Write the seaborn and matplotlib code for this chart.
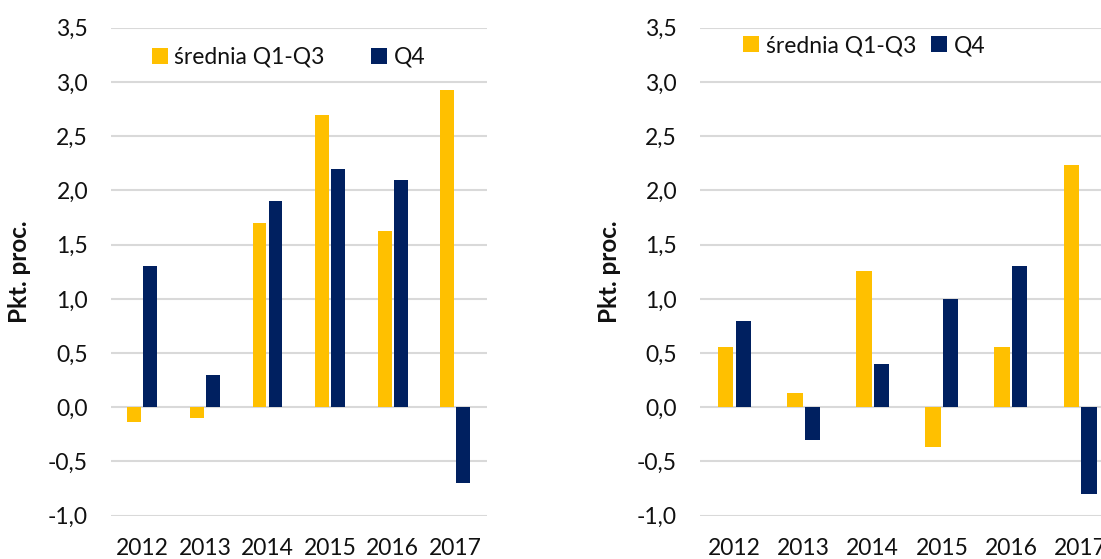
import matplotlib
matplotlib.use("Agg")
import matplotlib.pyplot as plt
import seaborn as sns
import pandas as pd
from matplotlib.patches import Patch

years = ["2012", "2013", "2014", "2015", "2016", "2017"]
series_names = ["średnia Q1-Q3", "Q4"]
left_avg = [-0.14, -0.10, 1.70, 2.70, 1.63, 2.93]
left_q4 = [1.30, 0.30, 1.90, 2.20, 2.10, -0.70]
right_avg = [0.56, 0.13, 1.26, -0.37, 0.56, 2.23]
right_q4 = [0.80, -0.30, 0.40, 1.00, 1.30, -0.80]
y_ticks = [-1.0, -0.5, 0.0, 0.5, 1.0, 1.5, 2.0, 2.5, 3.0, 3.5]
y_ticklabels = ["-1,0", "-0,5", "0,0", "0,5", "1,0", "1,5", "2,0", "2,5", "3,0", "3,5"]
y_label = "Pkt. proc."

colors = ["#FFC000", "#002060"]

sns.set_theme(style="white")
plt.rcParams["font.family"] = ["Lato", "DejaVu Sans"]
FS = 16.5
TXT = "#111111"

fig = plt.figure(figsize=(11.01, 5.59), dpi=100)
ax_l = fig.add_axes([111 / 1101, 1 - 515.7 / 559, 375.6 / 1101, 487.9 / 559])
ax_r = fig.add_axes([700 / 1101, 1 - 515.7 / 559, 414.6 / 1101, 487.9 / 559])


def make_df(a, b):
    return pd.DataFrame({
        "year": years * 2,
        "value": list(a) + list(b),
        "series": [series_names[0]] * len(years) + [series_names[1]] * len(years),
    })


def draw(ax, df, legend_xy, colspacing, ylabel_x):
    sns.barplot(data=df, x="year", y="value", hue="series", palette=colors,
                hue_order=series_names, order=years, width=0.51, gap=0.13,
                ax=ax, legend=False, linewidth=0, saturation=1)
    ax.set_ylim(-1.0, 3.5)
    ax.set_xlim(-0.5, len(years) - 0.5)
    ax.set_yticks(y_ticks)
    ax.set_yticklabels(y_ticklabels, fontsize=FS, color=TXT)
    ax.set_xticks(range(len(years)))
    ax.set_xticklabels(years, fontsize=FS, color=TXT)
    ax.tick_params(axis="y", length=0, pad=16.5)
    ax.tick_params(axis="x", length=0, pad=16)
    ax.grid(axis="y", color="#D9D9D9", linewidth=1.5)
    ax.set_axisbelow(True)
    for s in ax.spines.values():
        s.set_visible(False)
    ax.set_xlabel("")
    ax.set_ylabel(y_label, fontsize=17.5, fontweight="bold", color=TXT)
    ax.yaxis.set_label_coords(ylabel_x, 0.5)
    handles = [Patch(facecolor=c, edgecolor="none") for c in colors]
    ax.legend(handles, series_names, loc="center left", bbox_to_anchor=legend_xy,
              ncol=2, frameon=False, fontsize=FS, handlelength=0.7, handleheight=0.7,
              handletextpad=0.3, columnspacing=colspacing, borderpad=0,
              borderaxespad=0, labelcolor=TXT)


draw(ax_l, make_df(left_avg, left_q4), (0.108, 0.940), 2.0, -0.214)
draw(ax_r, make_df(right_avg, right_q4), (0.104, 0.9635), 0.65, -0.191)

fig.savefig("out.png", dpi=100)
